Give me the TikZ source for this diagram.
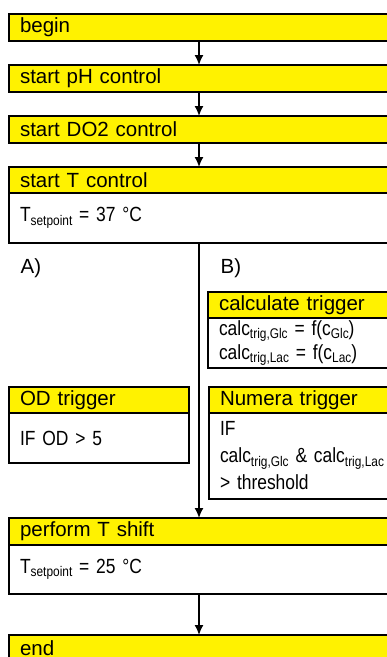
\documentclass[tikz,border=0pt]{standalone}
\usepackage{fontspec}
\setmainfont{Liberation Sans}
\newfontfamily\bodyfont[FakeStretch=0.85]{Liberation Sans}
\usetikzlibrary{positioning}
\usetikzlibrary{arrows.meta}
\newcommand{\subtxt}[1]{\raisebox{-3.5pt}{\fontsize{14pt}{14pt}\selectfont #1}}
\tikzset{
    head/.style = {draw, rectangle, fill=yellow, outer sep=0pt,
        text width=#1, inner xsep=11pt, inner ysep=0pt,
        minimum height=27pt, align=left},
    head/.default = 410pt,
    bodybox/.style = {draw, rectangle, fill=white, outer sep=0pt,
        text width=#1, inner xsep=11pt, inner ysep=0pt,
        minimum height=50pt, align=left,
        font=\bodyfont\fontsize{20.5pt}{25pt}\selectfont},
    bodybox/.default = 410pt,
    caseflag/.style = {inner sep=0pt, anchor=west}
}

\begin{document}
\begin{tikzpicture}[x=1pt, y=-1pt, line width=1.2pt,
    >={Latex[length=10pt,width=9pt]},
    font=\fontsize{20.5pt}{25pt}\selectfont]
    \clip (0,0) rectangle (387,657);
    \coordinate (spine) at (199,0);
    % main column
    \node [head, anchor=north west] (begin) at (9,14) {begin};
    \node [head, below=24pt of begin] (ph) {start pH control};
    \node [head, below=24pt of ph] (do2) {start DO2 control};
    \node [head, below=24pt of do2, minimum height=26pt] (tctrl) {start T control};
    \node [bodybox, below=0pt of tctrl] (tbody) {T\subtxt{setpoint} = 37 °C};
    \node [caseflag] (caseA) at (20,268) {A)};
    \node [caseflag] (caseB) at (220,268) {B)};
    % branch B
    \node [head=198pt, anchor=north west, minimum height=26pt] (calc) at (208,292) {calculate trigger};
    \node [bodybox=198pt, below=0pt of calc, font=\bodyfont\fontsize{20.5pt}{24pt}\selectfont] (calcbody)
        {calc\subtxt{trig,Glc} = f(c\subtxt{Glc})\\calc\subtxt{trig,Lac} = f(c\subtxt{Lac})};
    \node [head=198pt, anchor=north west, minimum height=26pt] (numera) at (209,387) {Numera trigger};
    \node [bodybox=198pt, below=0pt of numera, minimum height=86pt, font=\bodyfont\fontsize{20.5pt}{27pt}\selectfont] (numerabody)
        {IF\\calc\subtxt{trig,Glc} \& calc\subtxt{trig,Lac}\\> threshold};
    % branch A
    \node [head=158pt, anchor=north west, minimum height=26pt] (od) at (9,387) {OD trigger};
    \node [bodybox=158pt, below=0pt of od] (odbody) {IF OD > 5};
    % shift and end
    \node [head, anchor=north west] (shift) at (9,518) {perform T shift};
    \node [bodybox, below=0pt of shift, minimum height=49pt] (shiftbody) {T\subtxt{setpoint} = 25 °C};
    \node [head, below=41pt of shiftbody] (end) {end};
    \begin{scope}[line width=1.6pt]
        \draw [->] (begin.south -| spine) -- (ph.north -| spine);
        \draw [->] (ph.south -| spine) -- (do2.north -| spine);
        \draw [->] (do2.south -| spine) -- (tctrl.north -| spine);
        \draw [->] (tbody.south -| spine) -- (shift.north -| spine);
        \draw [->] (shiftbody.south -| spine) -- (end.north -| spine);
    \end{scope}
\end{tikzpicture}
\end{document}
